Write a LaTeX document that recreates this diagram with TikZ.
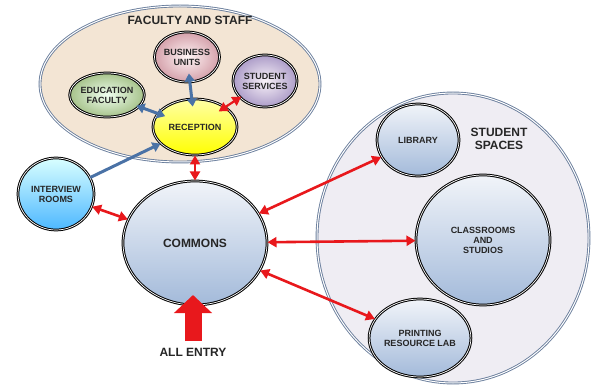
\documentclass[tikz,border=0pt]{standalone}
\usepackage{fontspec}
\setmainfont{Liberation Sans}
\usetikzlibrary{shapes.geometric, arrows.meta}

\definecolor{staffbg}{HTML}{F3E5D4}
\definecolor{studentbg}{HTML}{EFEDF3}
\definecolor{zoneline}{HTML}{6A7E9C}
\definecolor{labelgray}{HTML}{262626}
\definecolor{linkred}{HTML}{E8181C}
\definecolor{linkblue}{HTML}{4A72A6}
\definecolor{steeltop}{HTML}{F1F4F9}
\definecolor{steelbottom}{HTML}{A3BADA}

\tikzstyle{zone}=[ellipse, draw=zoneline, line width=0.9pt, double=white, double distance=1pt, inner sep=0pt]
\tikzstyle{room}=[ellipse, draw=black, line width=1pt, double=white, double distance=0.7pt, inner sep=0pt,
  align=center, text=labelgray, font=\bfseries\fontsize{9}{10}\selectfont]
\tikzstyle{steel}=[room, top color=steeltop, bottom color=steelbottom]
\tikzstyle{title}=[text=labelgray, align=center, font=\bfseries\fontsize{12}{13}\selectfont]
\tikzstyle{redlink}=[linkred, line width=2.6pt, {Triangle[length=9pt, width=10pt]}-{Triangle[length=9pt, width=10pt]}]
\tikzstyle{bluelink}=[linkblue, line width=3pt, {Triangle[length=8pt, width=10pt]}-{Triangle[length=8pt, width=10pt]}]

\begin{document}
\begin{tikzpicture}[x=1pt, y=-1pt]
	\useasboundingbox (0,0) rectangle (603,385);

	% The two groups of rooms
	\node[zone, fill=staffbg, minimum width=280pt, minimum height=156pt] (staff) at (180, 84) {};
	\node[zone, fill=studentbg, minimum width=272pt, minimum height=290pt] (student) at (453, 238) {};
	\node[title] (stafftitle) at (190, 20) {FACULTY AND STAFF};
	\node[title] (studenttitle) at (499, 139) {STUDENT\\SPACES};

	% Faculty and staff offices
	\node[room, inner color=red!4, outer color={rgb,255:red,212;green,160;blue,170}, minimum width=58pt, minimum height=50pt] (business) at (187, 57) {BUSINESS\\UNITS};
	\node[room, inner color=green!6!white, outer color={rgb,255:red,166;green,194;blue,138}, minimum width=68pt, minimum height=44pt] (education) at (107, 95) {EDUCATION\\FACULTY};
	\node[room, inner color=violet!5, outer color={rgb,255:red,172;green,156;blue,200}, minimum width=56pt, minimum height=52pt] (services) at (265, 81) {STUDENT\\SERVICES};
	\node[room, top color=yellow!35, bottom color=yellow, minimum width=84pt, minimum height=56pt] (reception) at (195, 127) {RECEPTION};
	\node[room, top color=cyan!15, bottom color=cyan!60!blue!70, minimum width=76pt, minimum height=72pt] (interview) at (56, 194) {INTERVIEW\\ROOMS};

	% Commons and student spaces
	\node[steel, minimum width=144pt, minimum height=124pt, font=\bfseries\fontsize{12}{13}\selectfont] (commons) at (195, 243) {COMMONS};
	\node[steel, minimum width=82pt, minimum height=72pt] (library) at (418, 140) {LIBRARY};
	\node[steel, minimum width=134pt, minimum height=130pt] (classrooms) at (483, 240) {CLASSROOMS\\AND\\STUDIOS};
	\node[steel, minimum width=84pt, minimum height=78pt] (printing) at (420, 338) {PRINTING\\RESOURCE LAB};

	% Links inside the staff area
	\draw[bluelink, shorten <=-9pt, shorten >=-8pt] (business) -- (reception);
	\draw[bluelink, shorten <=-3pt, shorten >=-8pt] (education) -- (reception);
	\draw[linkblue, line width=3pt, -{Triangle[length=8pt, width=10pt]}] (interview) -- (reception);
	\draw[redlink, line width=2.2pt, shorten <=-2pt, shorten >=-8pt] (services) -- (reception);

	% Links out of the commons
	\draw[redlink] (reception) -- (commons);
	\draw[redlink] (interview) -- (commons);
	\foreach \n in {library, classrooms, printing}{ \draw[redlink] (commons) -- (\n); }

	% Way in
	\coordinate (entry) at (193, 341);
	\coordinate (entrytip) at (193, 295);
	\draw[linkred, line width=17pt, -{Triangle[length=18pt, width=37pt]}] (entry) -- (entrytip);
	\node[title] (allentry) at (193, 352) {ALL ENTRY};
\end{tikzpicture}
\end{document}
